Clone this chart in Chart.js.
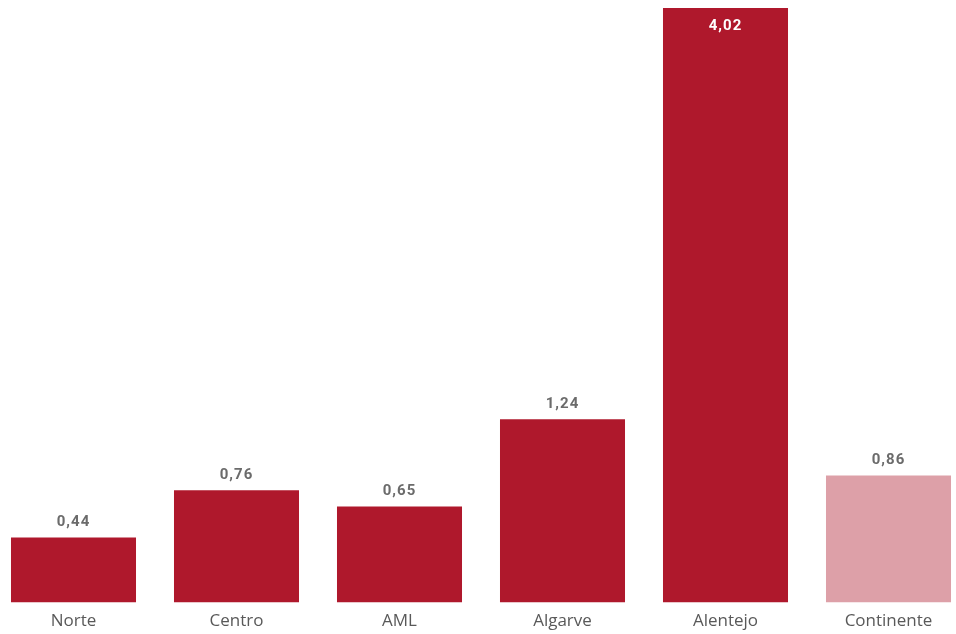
<!DOCTYPE html>
<html>
<head>
<meta charset="utf-8">
<script src="https://cdn.jsdelivr.net/npm/chart.js@4"></script>
<style>
html,body{margin:0;padding:0;background:#fff;overflow:hidden;}
#wrap{position:absolute;left:-8px;top:0;width:978px;height:643px;}
</style>
</head>
<body>
<div id="wrap"><canvas id="c"></canvas></div>
<script>
const categories = ['Norte', 'Centro', 'AML', 'Algarve', 'Alentejo', 'Continente'];
const values = [0.44, 0.76, 0.65, 1.24, 4.02, 0.86];
const valueLabels = ['0,44', '0,76', '0,65', '1,24', '4,02', '0,86'];
const insideLabel = [false, false, false, false, true, false];
const barColors = ['#AF182C', '#AF182C', '#AF182C', '#AF182C', '#AF182C', '#DDA0A8'];

const labelPlugin = {
  id: 'valueLabels',
  afterDatasetsDraw(chart) {
    const ctx = chart.ctx;
    const meta = chart.getDatasetMeta(0);
    ctx.save();
    ctx.font = 'bold 15px Roboto';
    if ('letterSpacing' in ctx) ctx.letterSpacing = '1px';
    ctx.textAlign = 'center';
    ctx.textBaseline = 'middle';
    meta.data.forEach((bar, i) => {
      if (insideLabel[i]) {
        ctx.fillStyle = '#ffffff';
        ctx.fillText(valueLabels[i], bar.x, bar.y + 18);
      } else {
        ctx.fillStyle = '#6b6b6b';
        ctx.fillText(valueLabels[i], bar.x, bar.y - 15);
      }
    });
    ctx.restore();
  }
};

new Chart(document.getElementById('c'), {
  type: 'bar',
  data: {
    labels: categories,
    datasets: [{
      data: values,
      backgroundColor: barColors,
      borderWidth: 0,
      categoryPercentage: 1,
      barPercentage: 0.767
    }]
  },
  options: {
    responsive: true,
    maintainAspectRatio: false,
    animation: false,
    layout: { padding: { top: 8, bottom: 4, left: 0, right: 0 } },
    plugins: { legend: { display: false }, tooltip: { enabled: false } },
    scales: {
      y: { display: false, min: 0, max: 4.02 },
      x: {
        grid: { display: false, drawTicks: false },
        border: { display: false },
        ticks: {
          color: '#595959',
          padding: 8,
          font: { family: 'Open Sans', size: 17 },
          maxRotation: 0,
          autoSkip: false
        }
      }
    }
  },
  plugins: [labelPlugin]
});
</script>
</body>
</html>
